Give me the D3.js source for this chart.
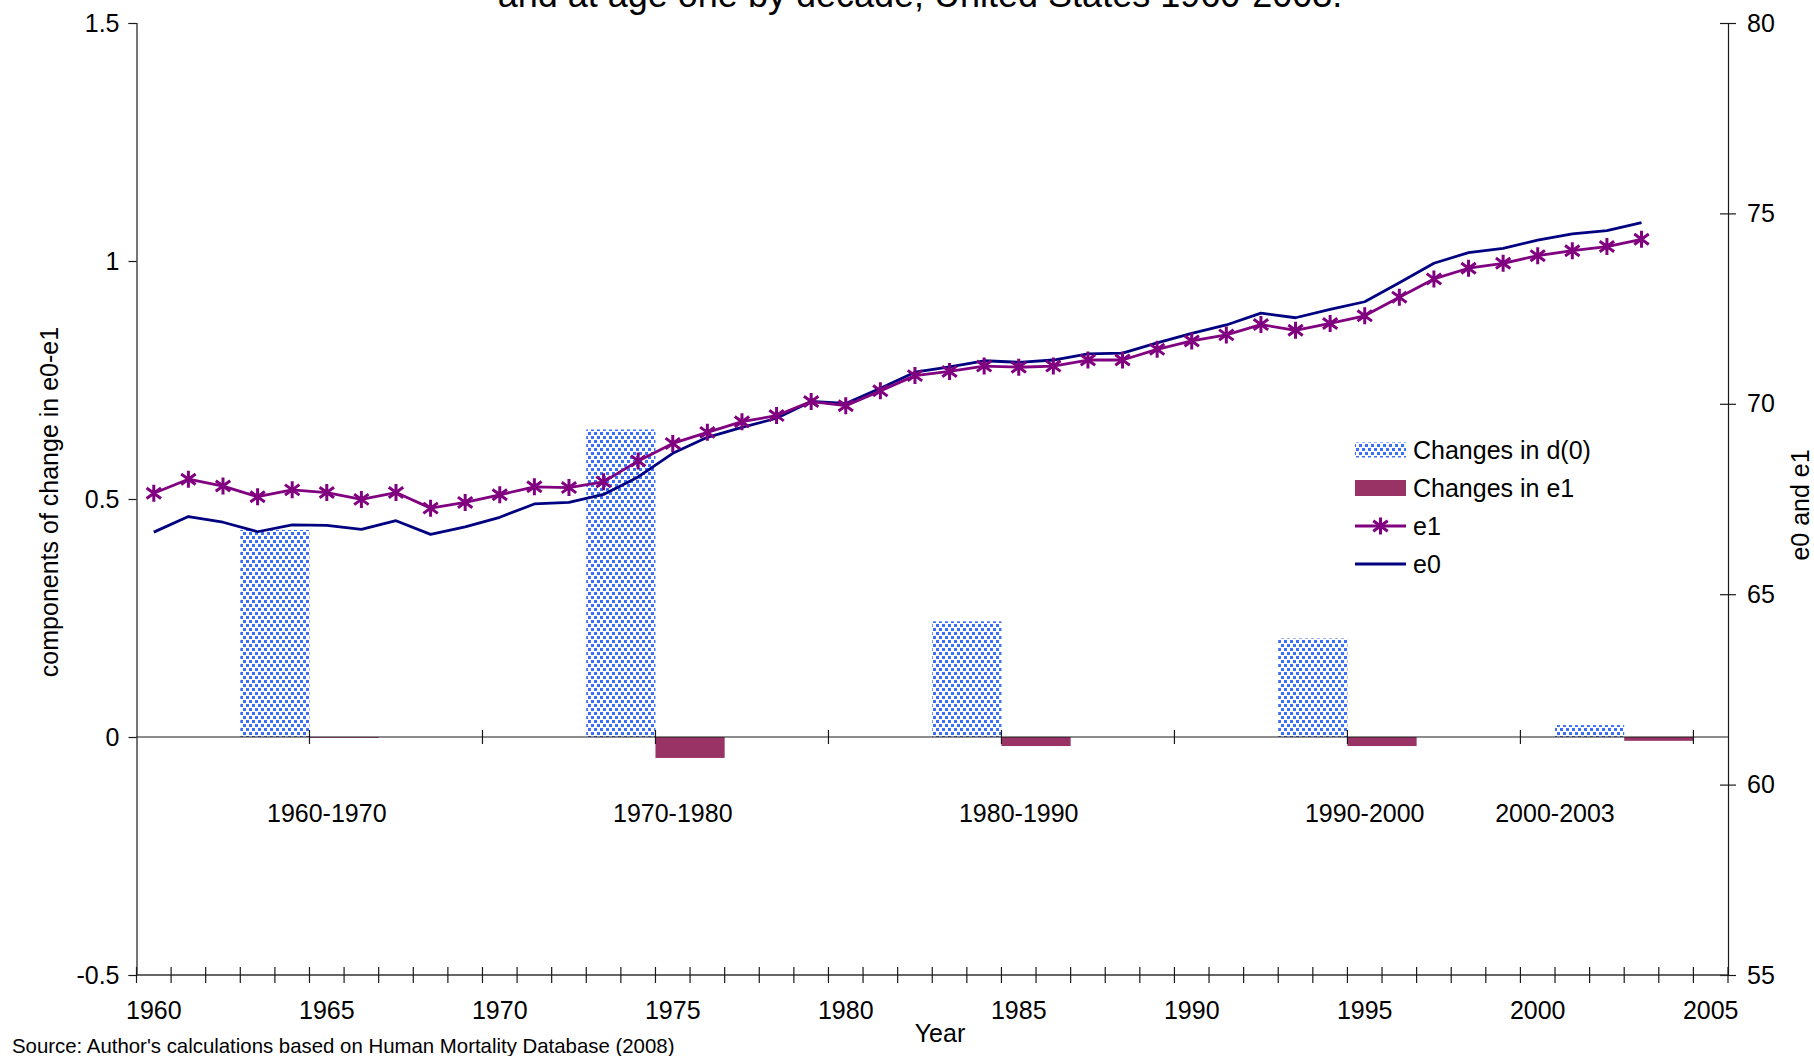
<!DOCTYPE html>
<html><head><meta charset="utf-8">
<script src="https://cdn.jsdelivr.net/npm/d3@7"></script>
<style>
html,body{margin:0;padding:0;background:#fff;}
svg{display:block;font-family:"Liberation Sans",Arial,Helvetica,sans-serif;}
</style></head>
<body>
<svg id="chart" width="1814" height="1056"></svg>
<script>
// ---------- DATA ----------
const years = d3.range(1960, 2006); // category axis 1960..2005
const lineYears = d3.range(1960, 2004);
const e0 = [66.63,67.04,66.89,66.64,66.82,66.81,66.70,66.93,66.57,66.77,
            67.02,67.37,67.41,67.62,68.08,68.70,69.12,69.38,69.62,70.06,
            70.01,70.41,70.83,70.97,71.13,71.09,71.15,71.31,71.33,71.60,
            71.85,72.07,72.38,72.26,72.48,72.68,73.18,73.69,73.97,74.08,
            74.30,74.46,74.55,74.76];
const e1 = [67.65,68.02,67.84,67.56,67.74,67.67,67.49,67.67,67.26,67.41,
            67.61,67.82,67.80,67.95,68.50,68.96,69.25,69.53,69.69,70.06,
            69.95,70.34,70.74,70.85,70.99,70.96,70.99,71.15,71.15,71.43,
            71.65,71.81,72.08,71.93,72.11,72.31,72.80,73.28,73.56,73.69,
            73.89,74.02,74.13,74.32];
const periods = ["1960-1970","1970-1980","1980-1990","1990-2000","2000-2003"];
const changesD0 = [0.435, 0.646, 0.243, 0.207, 0.025];
const changesE1 = [-0.001, -0.044, -0.019, -0.019, -0.008];
const periodAnchorYear = [1965, 1975, 1985, 1995, 2003];
const periodLabelYear = [1965, 1975, 1985, 1995, 2000.5];
const leftTicks = [-0.5, 0, 0.5, 1, 1.5];
const rightTicks = [55, 60, 65, 70, 75, 80];
const xLabelYears = [1960,1965,1970,1975,1980,1985,1990,1995,2000,2005];
const legendItems = ["Changes in d(0)", "Changes in e1", "e1", "e0"];

// ---------- LAYOUT ----------
const L = 136.5, R = 1728, T = 23, B = 975;
const FS = 25;
const svg = d3.select("#chart");

const x = d3.scaleBand().domain(years).range([L, R]).padding(0);
const bw = x.bandwidth();
const xc = y => x(y) + bw / 2;
const xl = v => { const f = Math.floor(v); return x(f) + (v - f + 0.5) * bw; };
const yL = d3.scaleLinear().domain([-0.5, 1.5]).range([B, T]);
const yR = d3.scaleLinear().domain([55, 80]).range([B, T]);

const defs = svg.append("defs");
const pat = defs.append("pattern").attr("id", "dots").attr("patternUnits", "userSpaceOnUse")
  .attr("width", 6).attr("height", 8);
pat.append("rect").attr("width", 6).attr("height", 8).attr("fill", "#ffffff");
pat.append("rect").attr("x", 0).attr("y", 0).attr("width", 3).attr("height", 3).attr("fill", "#3d6ef8");
pat.append("rect").attr("x", 3).attr("y", 4).attr("width", 3).attr("height", 3).attr("fill", "#3d6ef8");

const axisColor = "#1a1a1a";

// Title (second line, cut at top as in the original)
svg.append("text").attr("x", 920).attr("y", 7).attr("text-anchor", "middle")
  .attr("font-size", 36).attr("fill", "#000")
  .text("and at age one by decade, United States 1960-2003.");

// ---------- BARS ----------
const bars = svg.append("g");
periods.forEach((p, i) => {
  const a = periodAnchorYear[i];
  const v0 = changesD0[i], v1 = changesE1[i];
  bars.append("rect")
    .attr("x", x(a - 2)).attr("width", 2 * bw)
    .attr("y", yL(Math.max(0, v0))).attr("height", Math.abs(yL(v0) - yL(0)))
    .attr("fill", "url(#dots)");
  bars.append("rect")
    .attr("x", x(a)).attr("width", 2 * bw)
    .attr("y", yL(Math.max(0, v1))).attr("height", Math.max(0.8, Math.abs(yL(v1) - yL(0))))
    .attr("fill", "#993366");
  svg.append("text").attr("x", xl(periodLabelYear[i])).attr("y", 813).attr("dy", "0.35em")
    .attr("text-anchor", "middle").attr("font-size", FS).text(p);
});

// zero axis line with ticks every 5 categories
svg.append("line").attr("x1", L).attr("x2", R).attr("y1", yL(0)).attr("y2", yL(0))
  .attr("stroke", axisColor).attr("stroke-width", 1.2);
svg.append("g").selectAll("line").data(d3.range(1965, 2006, 5)).join("line")
  .attr("x1", d => x(d)).attr("x2", d => x(d))
  .attr("y1", yL(0) - 7).attr("y2", yL(0) + 7)
  .attr("stroke", axisColor).attr("stroke-width", 1.2);

// ---------- LINES ----------
const lineGen = d3.line().x((d, i) => xc(lineYears[i])).y(d => yR(d));
svg.append("path").datum(e0).attr("d", lineGen).attr("fill", "none")
  .attr("stroke", "#000080").attr("stroke-width", 2.8).attr("stroke-linejoin", "round");
svg.append("path").datum(e1).attr("d", lineGen).attr("fill", "none")
  .attr("stroke", "#800080").attr("stroke-width", 2.8).attr("stroke-linejoin", "round");

function star(g, cx, cy, r) {
  const dx = r * 0.85, dy = r * 0.62;
  g.append("path")
    .attr("d", `M${cx},${cy - r}L${cx},${cy + r}M${cx - dx},${cy - dy}L${cx + dx},${cy + dy}M${cx - dx},${cy + dy}L${cx + dx},${cy - dy}`)
    .attr("stroke", "#800080").attr("stroke-width", 3).attr("fill", "none");
}
const stars = svg.append("g");
e1.forEach((v, i) => star(stars, xc(lineYears[i]), yR(v), 8.5));

// ---------- AXES ----------
const fmt = d => String(d);
const gl = svg.append("g").attr("transform", `translate(${L},0)`)
  .call(d3.axisLeft(yL).tickValues(leftTicks).tickFormat(fmt).tickSize(8).tickPadding(9));
const gr = svg.append("g").attr("transform", `translate(${R},0)`)
  .call(d3.axisRight(yR).tickValues(rightTicks).tickFormat(fmt).tickSize(8).tickPadding(11));
gr.selectAll(".tick line").attr("x1", -8).attr("x2", 8);
[gl, gr].forEach(g => {
  g.select(".domain").attr("stroke", axisColor).attr("stroke-width", 1.2);
  g.selectAll(".tick line").attr("stroke", axisColor).attr("stroke-width", 1.2);
  g.selectAll("text").attr("font-size", FS).attr("font-family", "Liberation Sans, Arial, sans-serif").attr("fill", "#000");
});

// bottom axis
svg.append("line").attr("x1", L).attr("x2", R).attr("y1", B).attr("y2", B)
  .attr("stroke", "#333").attr("stroke-width", 1.6);
svg.append("g").selectAll("line").data(years.concat([2006])).join("line")
  .attr("x1", d => d === 2006 ? R : x(d)).attr("x2", d => d === 2006 ? R : x(d))
  .attr("y1", B - 8).attr("y2", B + 8)
  .attr("stroke", axisColor).attr("stroke-width", 1.2);
const gb = svg.append("g").attr("transform", `translate(0,${B})`)
  .call(d3.axisBottom(x).tickValues(xLabelYears).tickSize(0).tickPadding(26));
gb.select(".domain").remove();
gb.selectAll("text").attr("font-size", FS).attr("font-family", "Liberation Sans, Arial, sans-serif").attr("fill", "#000");

// axis titles
svg.append("text").attr("transform", "translate(49,502) rotate(-90)").attr("dy", "0.35em")
  .attr("text-anchor", "middle").attr("font-size", FS).text("components of change in e0-e1");
svg.append("text").attr("transform", "translate(1800,505) rotate(-90)").attr("dy", "0.35em")
  .attr("text-anchor", "middle").attr("font-size", FS).text("e0 and e1");
svg.append("text").attr("x", 940).attr("y", 1033).attr("dy", "0.35em")
  .attr("text-anchor", "middle").attr("font-size", FS).text("Year");
svg.append("text").attr("x", 12).attr("y", 1046).attr("dy", "0.35em")
  .attr("font-size", 20.4).text("Source: Author's calculations based on Human Mortality Database (2008)");

// ---------- LEGEND ----------
const lg = svg.append("g");
const rowY = [450, 488, 526, 564];
const sx0 = 1355, sx1 = 1406;
lg.append("rect").attr("x", sx0).attr("y", rowY[0] - 7.5).attr("width", sx1 - sx0).attr("height", 15).attr("fill", "url(#dots)");
lg.append("rect").attr("x", sx0).attr("y", rowY[1] - 8).attr("width", sx1 - sx0).attr("height", 16).attr("fill", "#993366");
lg.append("line").attr("x1", sx0).attr("x2", sx1).attr("y1", rowY[2]).attr("y2", rowY[2]).attr("stroke", "#800080").attr("stroke-width", 2.8);
star(lg, (sx0 + sx1) / 2, rowY[2], 8.5);
lg.append("line").attr("x1", sx0).attr("x2", sx1).attr("y1", rowY[3]).attr("y2", rowY[3]).attr("stroke", "#000080").attr("stroke-width", 2.8);
legendItems.forEach((t, i) => {
  lg.append("text").attr("x", 1413).attr("y", rowY[i]).attr("dy", "0.35em").attr("font-size", FS).text(t);
});
</script>
</body></html>
